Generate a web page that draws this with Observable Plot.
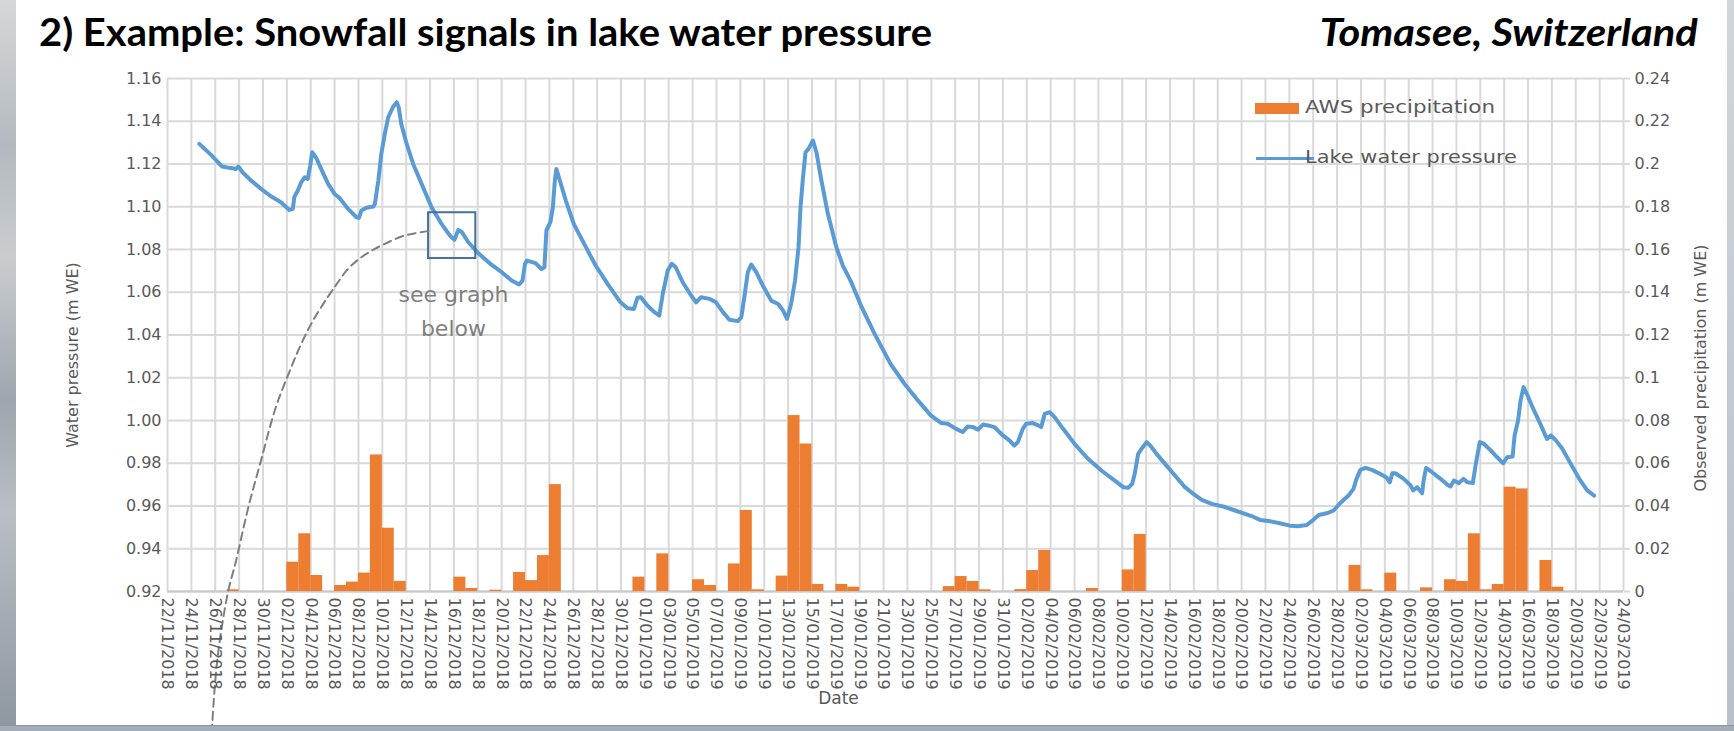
<!DOCTYPE html>
<html>
<head>
<meta charset="utf-8">
<script src="https://cdn.jsdelivr.net/npm/d3@7"></script>
<script src="https://cdn.jsdelivr.net/npm/@observablehq/plot@0.6"></script>
<style>
  html, body { margin: 0; padding: 0; background: #ffffff; }
  body { width: 1734px; height: 731px; position: relative; overflow: hidden; font-family: "DejaVu Sans", sans-serif; }
  #photoL { position: absolute; left: 0; top: 0; width: 16px; height: 731px;
    background: linear-gradient(to bottom, #d5d8da 0%, #b3b9be 20%, #c9cdd0 35%, #9ea6ad 55%, #b9bfc4 70%, #8d97a0 100%); }
  #photoR { position: absolute; right: 0; top: 0; width: 7px; height: 731px; background: linear-gradient(to bottom, #cfd6dc, #b7c0c8); }
  #photoB { position: absolute; left: 0; bottom: 0; width: 1734px; height: 5px; background: #a3adb7; border-top: 1px solid #8a939c; }
  #head { position: relative; height: 60px; }
  .title { position: absolute; top: 12px; font-family: Lato, "Open Sans", sans-serif; font-weight: 700; font-size: 38px; line-height: 1; color: #000; white-space: nowrap; }
  #t1 { left: 39px; }
  #t2 { right: 36px; font-style: italic; }
  #chart { position: absolute; left: 0; top: 60px; }
  .lg { position: absolute; }
  .lgtext { position: absolute; font-family: "DejaVu Sans", sans-serif; font-size: 18.5px; line-height: 1; color: #595959; white-space: nowrap; }
</style>
</head>
<body>
<div id="photoL"></div>
<div id="photoR"></div>
<div id="head">
  <div id="t1" class="title">2) Example: Snowfall signals in lake water pressure</div>
  <div id="t2" class="title">Tomasee, Switzerland</div>
</div>
<div id="chart"></div>
<div class="lg" style="left:1255px; top:103px; width:44px; height:11px; background:#ed7d31;"></div>
<div id="lg1" class="lgtext" style="left:1305px; top:98px;">AWS precipitation</div>
<div class="lg" style="left:1256px; top:157px; width:58px; height:3px; background:#5b9bd5;"></div>
<div id="lg2" class="lgtext" style="left:1305px; top:148px;">Lake water pressure</div>
<div id="photoB"></div>
<script>
// ---------- data ----------
const dateTickLabels = [
  "22/11/2018","24/11/2018","26/11/2018","28/11/2018","30/11/2018",
  "02/12/2018","04/12/2018","06/12/2018","08/12/2018","10/12/2018","12/12/2018","14/12/2018","16/12/2018","18/12/2018","20/12/2018","22/12/2018","24/12/2018","26/12/2018","28/12/2018","30/12/2018",
  "01/01/2019","03/01/2019","05/01/2019","07/01/2019","09/01/2019","11/01/2019","13/01/2019","15/01/2019","17/01/2019","19/01/2019","21/01/2019","23/01/2019","25/01/2019","27/01/2019","29/01/2019","31/01/2019",
  "02/02/2019","04/02/2019","06/02/2019","08/02/2019","10/02/2019","12/02/2019","14/02/2019","16/02/2019","18/02/2019","20/02/2019","22/02/2019","24/02/2019","26/02/2019","28/02/2019",
  "02/03/2019","04/03/2019","06/03/2019","08/03/2019","10/03/2019","12/03/2019","14/03/2019","16/03/2019","18/03/2019","20/03/2019","22/03/2019","24/03/2019"
];
const leftTickValues = [0.92, 0.94, 0.96, 0.98, 1.00, 1.02, 1.04, 1.06, 1.08, 1.10, 1.12, 1.14, 1.16];
const leftTickLabels = ["0.92","0.94","0.96","0.98","1.00","1.02","1.04","1.06","1.08","1.10","1.12","1.14","1.16"];
const rightTickValues = [0, 0.02, 0.04, 0.06, 0.08, 0.10, 0.12, 0.14, 0.16, 0.18, 0.20, 0.22, 0.24];
const rightTickLabels = ["0","0.02","0.04","0.06","0.08","0.1","0.12","0.14","0.16","0.18","0.2","0.22","0.24"];

const pressureTimes = [
"2018-11-24 16:00","2018-11-25 15:00","2018-11-26 14:00","2018-11-27 04:00","2018-11-27 18:00","2018-11-27 23:00","2018-11-28 07:00","2018-11-29 00:00","2018-11-29 20:00","2018-11-30 16:00",
"2018-12-01 12:00","2018-12-02 05:00","2018-12-02 12:00","2018-12-02 15:00","2018-12-02 22:00","2018-12-03 05:00","2018-12-03 12:00","2018-12-03 18:00","2018-12-03 23:00","2018-12-04 03:00",
"2018-12-04 11:00","2018-12-04 21:00","2018-12-05 11:00","2018-12-06 00:00","2018-12-06 10:00","2018-12-07 03:00","2018-12-07 20:00","2018-12-08 01:00","2018-12-08 06:00","2018-12-08 16:00",
"2018-12-09 06:00","2018-12-09 09:00","2018-12-09 16:00","2018-12-09 22:00","2018-12-10 05:00","2018-12-10 12:00","2018-12-10 22:00","2018-12-11 05:00","2018-12-11 09:00","2018-12-11 14:00",
"2018-12-12 01:00","2018-12-12 14:00","2018-12-13 07:00","2018-12-14 03:00","2018-12-14 23:00","2018-12-15 16:00","2018-12-16 01:00","2018-12-16 09:00","2018-12-16 16:00","2018-12-17 05:00",
"2018-12-18 01:00","2018-12-19 04:00","2018-12-20 00:00","2018-12-20 20:00","2018-12-21 11:00","2018-12-21 18:00","2018-12-21 23:00","2018-12-22 03:00","2018-12-22 20:00","2018-12-23 08:00",
"2018-12-23 14:00","2018-12-23 18:00","2018-12-24 02:00","2018-12-24 07:00","2018-12-24 11:00","2018-12-24 14:00","2018-12-24 19:00","2018-12-25 09:00","2018-12-26 01:00","2018-12-26 22:00",
"2018-12-27 21:00","2018-12-28 21:00","2018-12-29 23:00","2018-12-30 13:00","2018-12-31 02:00","2018-12-31 09:00","2018-12-31 16:00","2019-01-01 05:00","2019-01-01 19:00","2019-01-02 05:00",
"2019-01-02 12:00","2019-01-02 22:00","2019-01-03 06:00","2019-01-03 14:00","2019-01-04 04:00","2019-01-04 21:00","2019-01-05 07:00","2019-01-05 17:00","2019-01-06 10:00","2019-01-06 23:00",
"2019-01-07 13:00","2019-01-08 02:00","2019-01-08 19:00","2019-01-09 02:00","2019-01-09 08:00","2019-01-09 15:00","2019-01-09 22:00","2019-01-10 08:00","2019-01-10 21:00","2019-01-11 14:00",
"2019-01-12 04:00","2019-01-12 14:00","2019-01-12 22:00","2019-01-13 06:00","2019-01-13 14:00","2019-01-13 21:00","2019-01-14 01:00","2019-01-14 06:00","2019-01-14 11:00","2019-01-14 17:00",
"2019-01-15 02:00","2019-01-15 09:00","2019-01-15 19:00","2019-01-16 08:00","2019-01-17 01:00","2019-01-17 14:00","2019-01-18 07:00","2019-01-19 04:00","2019-01-20 06:00","2019-01-21 14:00",
"2019-01-22 18:00","2019-01-23 21:00","2019-01-24 23:00","2019-01-25 20:00","2019-01-26 09:00","2019-01-27 02:00","2019-01-27 15:00","2019-01-28 01:00","2019-01-28 12:00","2019-01-28 22:00",
"2019-01-29 08:00","2019-01-29 18:00","2019-01-30 07:00","2019-01-31 00:00","2019-01-31 13:00","2019-01-31 23:00","2019-02-01 06:00","2019-02-01 16:00","2019-02-01 23:00","2019-02-02 12:00",
"2019-02-02 23:00","2019-02-03 05:00","2019-02-03 12:00","2019-02-03 22:00","2019-02-04 08:00","2019-02-05 01:00","2019-02-06 00:00","2019-02-07 03:00","2019-02-08 06:00","2019-02-09 09:00",
"2019-02-10 02:00","2019-02-10 12:00","2019-02-10 20:00","2019-02-11 01:00","2019-02-11 08:00","2019-02-11 15:00","2019-02-12 01:00","2019-02-12 11:00","2019-02-12 21:00","2019-02-13 14:00",
"2019-02-14 10:00","2019-02-15 06:00","2019-02-15 23:00","2019-02-16 16:00","2019-02-17 12:00","2019-02-18 15:00","2019-02-19 11:00","2019-02-20 20:00","2019-02-21 13:00","2019-02-22 09:00",
"2019-02-23 05:00","2019-02-24 01:00","2019-02-24 18:00","2019-02-25 11:00","2019-02-25 21:00","2019-02-26 11:00","2019-02-27 03:00","2019-02-27 17:00","2019-02-28 06:00","2019-02-28 23:00",
"2019-03-01 09:00","2019-03-01 15:00","2019-03-01 23:00","2019-03-02 09:00","2019-03-02 22:00","2019-03-03 15:00","2019-03-04 04:00","2019-03-04 10:00","2019-03-04 15:00","2019-03-04 21:00",
"2019-03-05 14:00","2019-03-06 04:00","2019-03-06 09:00","2019-03-06 17:00","2019-03-07 03:00","2019-03-07 06:00","2019-03-07 11:00","2019-03-07 23:00","2019-03-08 16:00","2019-03-09 06:00",
"2019-03-09 12:00","2019-03-09 19:00","2019-03-10 05:00","2019-03-10 14:00","2019-03-10 22:00","2019-03-11 09:00","2019-03-11 15:00","2019-03-11 23:00","2019-03-12 07:00","2019-03-12 21:00",
"2019-03-13 10:00","2019-03-13 22:00","2019-03-14 06:00","2019-03-14 17:00","2019-03-14 21:00","2019-03-15 04:00","2019-03-15 09:00","2019-03-15 15:00","2019-03-15 23:00","2019-03-16 12:00",
"2019-03-17 02:00","2019-03-17 14:00","2019-03-17 22:00","2019-03-18 08:00","2019-03-18 21:00","2019-03-19 14:00","2019-03-20 07:00","2019-03-20 23:00","2019-03-21 13:00"
];
const pressureValues = [
1.1294,1.1244,1.1188,1.1182,1.1177,1.1188,1.1161,1.1123,1.1084,1.1049,
1.1021,1.0985,1.0990,1.1045,1.1076,1.1115,1.1138,1.1130,1.1193,1.1255,
1.1229,1.1177,1.1107,1.1060,1.1041,1.0990,1.0951,1.0948,1.0982,1.0995,
1.1001,1.1013,1.1123,1.1247,1.1341,1.1419,1.1469,1.1489,1.1465,1.1388,
1.1294,1.1200,1.1107,1.0998,1.0920,1.0865,1.0845,1.0892,1.0881,1.0834,
1.0783,1.0728,1.0694,1.0655,1.0636,1.0655,1.0733,1.0748,1.0736,1.0709,
1.0717,1.0889,1.0928,1.0998,1.1123,1.1177,1.1138,1.1029,1.0920,1.0826,
1.0725,1.0639,1.0553,1.0525,1.0522,1.0574,1.0577,1.0538,1.0507,1.0491,
1.0592,1.0702,1.0733,1.0717,1.0647,1.0585,1.0553,1.0577,1.0569,1.0553,
1.0507,1.0471,1.0465,1.0483,1.0577,1.0694,1.0730,1.0694,1.0632,1.0561,
1.0545,1.0514,1.0476,1.0545,1.0655,1.0811,1.0998,1.1138,1.1255,1.1271,
1.1310,1.1255,1.1123,1.0967,1.0811,1.0725,1.0647,1.0530,1.0405,1.0265,
1.0172,1.0094,1.0024,0.9988,0.9985,0.9961,0.9946,0.9972,0.9969,0.9957,
0.9981,0.9977,0.9969,0.9930,0.9907,0.9883,0.9899,0.9961,0.9985,0.9988,
0.9977,0.9969,1.0031,1.0039,1.0016,0.9961,0.9891,0.9821,0.9766,0.9719,
0.9688,0.9685,0.9704,0.9750,0.9844,0.9868,0.9899,0.9875,0.9844,0.9797,
0.9743,0.9688,0.9657,0.9629,0.9610,0.9595,0.9579,0.9553,0.9535,0.9529,
0.9519,0.9508,0.9505,0.9511,0.9529,0.9558,0.9566,0.9579,0.9613,0.9649,
0.9680,0.9727,0.9769,0.9778,0.9769,0.9750,0.9732,0.9711,0.9753,0.9753,
0.9727,0.9696,0.9673,0.9688,0.9660,0.9719,0.9778,0.9758,0.9727,0.9699,
0.9691,0.9719,0.9707,0.9727,0.9711,0.9707,0.9797,0.9899,0.9891,0.9860,
0.9828,0.9800,0.9828,0.9831,0.9930,1.0000,1.0094,1.0156,1.0117,1.0047,
0.9977,0.9914,0.9930,0.9907,0.9868,0.9797,0.9727,0.9673,0.9649
];

const precipDates = [
"2018-11-27","2018-12-02","2018-12-03","2018-12-04","2018-12-06","2018-12-07","2018-12-08","2018-12-09","2018-12-10","2018-12-11",
"2018-12-16","2018-12-17","2018-12-19","2018-12-21","2018-12-22","2018-12-23","2018-12-24","2018-12-31","2019-01-02","2019-01-05",
"2019-01-06","2019-01-08","2019-01-09","2019-01-10","2019-01-12","2019-01-13","2019-01-14","2019-01-15","2019-01-17","2019-01-18",
"2019-01-26","2019-01-27","2019-01-28","2019-01-29","2019-02-01","2019-02-02","2019-02-03","2019-02-07","2019-02-10","2019-02-11",
"2019-03-01","2019-03-02","2019-03-04","2019-03-07","2019-03-09","2019-03-10","2019-03-11","2019-03-12","2019-03-13","2019-03-14",
"2019-03-15","2019-03-17","2019-03-18"
];
const precipValues = [
0.0008,0.0137,0.0270,0.0075,0.0028,0.0044,0.0086,0.0639,0.0296,0.0047,
0.0067,0.0014,0.0006,0.0089,0.0051,0.0168,0.0500,0.0067,0.0176,0.0055,
0.0028,0.0129,0.0379,0.0008,0.0072,0.0823,0.0690,0.0033,0.0033,0.0020,
0.0023,0.0070,0.0047,0.0008,0.0009,0.0098,0.0192,0.0014,0.0101,0.0267,
0.0122,0.0008,0.0086,0.0017,0.0055,0.0047,0.0270,0.0008,0.0033,0.0488,
0.0480,0.0145,0.0020
];

// annotation: box around the small signal, dashed callout, note text
const boxTimes = ["2018-12-13 21:00", "2018-12-17 20:00"];
const boxValues = [1.0758, 1.0972];
const calloutTimes = [
"2018-12-13 21:00","2018-12-12 18:00","2018-12-11 15:00","2018-12-10 12:00","2018-12-09 09:00","2018-12-08 06:00","2018-12-07 03:00","2018-12-06 00:00","2018-12-04 21:00","2018-12-04 01:00",
"2018-12-03 05:00","2018-12-02 09:00","2018-12-01 02:00","2018-11-29 20:00","2018-11-28 17:00","2018-11-27 18:00","2018-11-27 01:00","2018-11-26 04:00","2018-11-25 17:00"
];
const calloutValues = [
1.0886,1.0876,1.0861,1.0834,1.0803,1.0764,1.0709,1.0624,1.0530,1.0452,
1.0359,1.0250,1.0063,0.9813,0.9579,0.9345,0.9190,0.8877,0.8545
];
const noteTime = "2018-12-15 23:00";
const noteValue = 1.0526;
const noteText = "see graph\nbelow";

const leftTitle = "Water pressure (m WE)";
const rightTitle = "Observed precipitation (m WE)";
const xTitle = "Date";

// ---------- derived tables ----------
const parseT = d3.utcParse("%Y-%m-%d %H:%M");
const parseD = d3.utcParse("%Y-%m-%d");
const parseTick = d3.utcParse("%d/%m/%Y");
const xTicks = dateTickLabels.map(parseTick);
const xLabelByTime = new Map(xTicks.map((d, i) => [+d, dateTickLabels[i]]));
const BASE = leftTickValues[0]; // zero of the secondary axis sits on the bottom of the primary
const leftLabelByValue = new Map(leftTickValues.map((v, i) => [v.toFixed(4), leftTickLabels[i]]));
const rightTickPos = rightTickValues.map(v => BASE + v);
const rightLabelByPos = new Map(rightTickPos.map((v, i) => [v.toFixed(4), rightTickLabels[i]]));

const pressure = pressureTimes.map((t, i) => ({t: parseT(t), v: pressureValues[i]}));
const precip = precipDates.map((d, i) => {
  const s = parseD(d);
  return {x1: s, x2: d3.utcDay.offset(s, 1), y1: BASE, y2: BASE + precipValues[i]};
});
const box = [{x1: parseT(boxTimes[0]), x2: parseT(boxTimes[1]), y1: boxValues[0], y2: boxValues[1]}];
const callout = calloutTimes.map((t, i) => ({t: parseT(t), v: calloutValues[i]}));
const note = [{t: parseT(noteTime), v: noteValue, text: noteText}];

const grid = "#d9d9d9";
const ink = "#595959";

const chart = Plot.plot({
  width: 1734,
  height: 671,
  marginTop: 18,
  marginBottom: 140,
  marginLeft: 167,
  marginRight: 111,
  x: {type: "utc", domain: [xTicks[0], xTicks[xTicks.length - 1]], axis: null},
  y: {domain: [leftTickValues[0], leftTickValues[leftTickValues.length - 1]], axis: null},
  style: {fontFamily: "'DejaVu Sans', sans-serif", fontSize: "16px", color: ink, background: "transparent", overflow: "visible"},
  marks: [
    Plot.ruleY(leftTickValues, {stroke: grid, strokeWidth: 2}),
    Plot.ruleX(xTicks, {stroke: grid, strokeWidth: 2}),
    Plot.ruleY([BASE], {stroke: "#c8c8c8", strokeWidth: 2}),
    Plot.rect(precip, {x1: "x1", x2: "x2", y1: "y1", y2: "y2", fill: "#ed7d31"}),
    Plot.line(pressure, {x: "t", y: "v", stroke: "#5b9bd5", strokeWidth: 4, strokeLinejoin: "round", strokeLinecap: "round"}),
    Plot.rect(box, {x1: "x1", x2: "x2", y1: "y1", y2: "y2", fill: "none", stroke: "#41719c", strokeWidth: 2}),
    Plot.line(callout, {x: "t", y: "v", stroke: "#7f7f7f", strokeWidth: 2, strokeDasharray: "8,5", curve: "catmull-rom"}),
    Plot.text(note, {x: "t", y: "v", text: "text", fill: "#7f7f7f", fontSize: 22, lineHeight: 1.55}),
    Plot.axisY(leftTickValues, {anchor: "left", tickSize: 0, tickPadding: 6, fill: ink, fontSize: 16,
      tickFormat: d => leftLabelByValue.get(d.toFixed(4)), label: null}),
    Plot.axisY(rightTickPos, {anchor: "right", tickSize: 6, tickPadding: 5, stroke: grid, strokeWidth: 2, fill: ink, fontSize: 16,
      tickFormat: d => rightLabelByPos.get(d.toFixed(4)), label: null}),
    Plot.axisX(xTicks, {anchor: "bottom", tickSize: 0, tickPadding: 6, tickRotate: 90, textAnchor: "start", lineAnchor: "middle",
      fill: ink, fontSize: 16, tickFormat: d => xLabelByTime.get(+d), label: null}),
    Plot.text([leftTitle], {text: d => d, frameAnchor: "left", textAnchor: "middle", dx: -95, dy: 20, rotate: -90, fill: ink, fontSize: 16}),
    Plot.text([rightTitle], {text: d => d, frameAnchor: "right", textAnchor: "middle", dx: 77, dy: 33, rotate: -90, fill: ink, fontSize: 16}),
    Plot.text([xTitle], {text: d => d, frameAnchor: "bottom", dx: -57, dy: 112, fill: ink, fontSize: 17})
  ]
});
document.getElementById("chart").appendChild(chart);

// stretch the html texts horizontally to the reference widths
function fitWidth(id, target, origin) {
  const el = document.getElementById(id);
  const w = el.getBoundingClientRect().width;
  el.style.transformOrigin = origin;
  el.style.transform = `scaleX(${target / w})`;
}
fitWidth("t1", 893, "left center");
fitWidth("t2", 378, "right center");
fitWidth("lg1", 190, "left center");
fitWidth("lg2", 212, "left center");
</script>
</body>
</html>
